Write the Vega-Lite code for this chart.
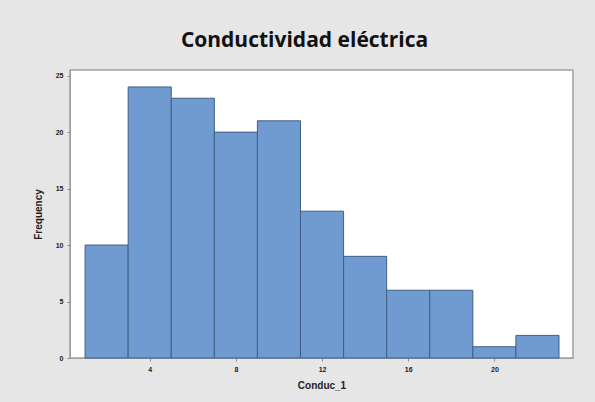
{
  "$schema": "https://vega.github.io/schema/vega-lite/v6.json",
  "width": 503,
  "height": 288,
  "autosize": {"type": "none"},
  "padding": {"left": 70, "top": 70, "right": 22, "bottom": 44},
  "background": "#e6e6e6",
  "title": {
    "text": "Conductividad eléctrica",
    "font": "Open Sans",
    "fontSize": 21,
    "fontWeight": "bold",
    "color": "#111111",
    "anchor": "middle",
    "frame": "group",
    "offset": 19,
    "dx": -17
  },
  "config": {
    "view": {"fill": "white", "stroke": "#a0a0a0", "strokeWidth": 1.5},
    "axis": {
      "labelFont": "Liberation Sans",
      "labelFontWeight": "bold",
      "labelFontSize": 7,
      "labelColor": "#222222",
      "titleFont": "Liberation Sans",
      "titleFontWeight": "bold",
      "titleFontSize": 10,
      "titleColor": "#222222",
      "tickColor": "#888888",
      "tickSize": 3,
      "domainColor": "#a0a0a0",
      "grid": false
    }
  },
  "data": {
    "values": [
      {"bin_start": 1, "bin_end": 3, "count": 10},
      {"bin_start": 3, "bin_end": 5, "count": 24},
      {"bin_start": 5, "bin_end": 7, "count": 23},
      {"bin_start": 7, "bin_end": 9, "count": 20},
      {"bin_start": 9, "bin_end": 11, "count": 21},
      {"bin_start": 11, "bin_end": 13, "count": 13},
      {"bin_start": 13, "bin_end": 15, "count": 9},
      {"bin_start": 15, "bin_end": 17, "count": 6},
      {"bin_start": 17, "bin_end": 19, "count": 6},
      {"bin_start": 19, "bin_end": 21, "count": 1},
      {"bin_start": 21, "bin_end": 23, "count": 2}
    ]
  },
  "mark": {"type": "rect", "fill": "#6f9bd0", "stroke": "#3f5f86", "strokeWidth": 1},
  "encoding": {
    "x": {
      "field": "bin_start",
      "type": "quantitative",
      "scale": {"domain": [0.3, 23.65], "nice": false, "zero": false},
      "axis": {"values": [4, 8, 12, 16, 20], "title": "Conduc_1", "titlePadding": 8, "labelPadding": 4}
    },
    "x2": {"field": "bin_end"},
    "y": {
      "field": "count",
      "type": "quantitative",
      "scale": {"domain": [0, 25.5], "nice": false},
      "axis": {"values": [0, 5, 10, 15, 20, 25], "title": "Frequency", "titlePadding": 12, "labelPadding": 4}
    },
    "y2": {"datum": 0}
  }
}
